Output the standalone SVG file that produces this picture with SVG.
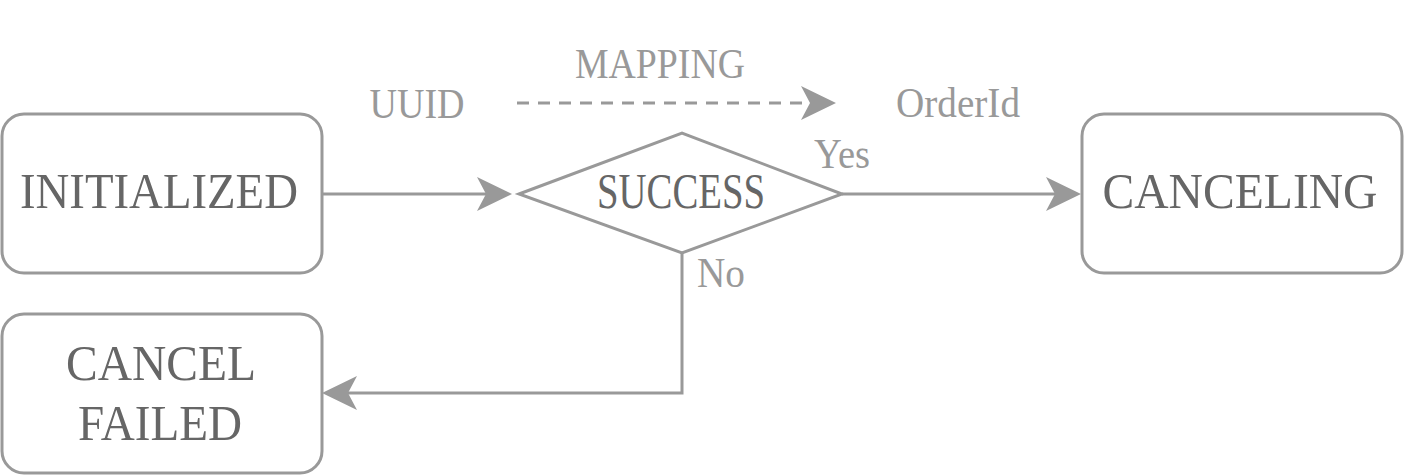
<svg xmlns="http://www.w3.org/2000/svg" width="1404" height="476" viewBox="0 0 1404 476">
<style>
.box{fill:#fff;stroke:#999;stroke-width:3}
.node{font-family:"Liberation Serif","Times New Roman",serif;fill:#666;text-anchor:middle;font-size:50px}
.lbl{font-family:"Liberation Serif","Times New Roman",serif;fill:#999;font-size:42px}
.edge{fill:none;stroke:#999;stroke-width:3}
</style>
<defs>
<marker id="arr" markerUnits="userSpaceOnUse" markerWidth="36" markerHeight="36" viewBox="0 0 36 36" refX="9" refY="18" orient="auto">
<path d="M0,1 L35,18 L0,35 L9,18 Z" fill="#999"/>
</marker>
</defs>
<rect width="1404" height="476" fill="#fff"/>
<g id="connectors">
<path class="edge" d="M322,194 H486" marker-end="url(#arr)"/>
<path class="edge" d="M842,194 H1055" marker-end="url(#arr)"/>
<path class="edge" d="M682,253 V393 H348" marker-end="url(#arr)"/>
<path class="edge" d="M517,103 H810" stroke-dasharray="12 9" marker-end="url(#arr)"/>
</g>
<g id="initialized">
<rect class="box" x="2" y="114" width="320" height="159" rx="22"/>
<text class="node" x="159" y="208" textLength="278" lengthAdjust="spacingAndGlyphs">INITIALIZED</text>
</g>
<g id="success">
<path class="box" d="M519,194 L682,133 L842,194 L682,253 Z"/>
<text class="node" x="681" y="208" font-size="42" textLength="168" lengthAdjust="spacingAndGlyphs">SUCCESS</text>
</g>
<g id="canceling">
<rect class="box" x="1082" y="114" width="320" height="159" rx="22"/>
<text class="node" x="1240" y="208" textLength="275" lengthAdjust="spacingAndGlyphs">CANCELING</text>
</g>
<g id="cancel-failed">
<rect class="box" x="2" y="314" width="320" height="159" rx="22"/>
<text class="node" x="161" y="380" textLength="190" lengthAdjust="spacingAndGlyphs">CANCEL</text>
<text class="node" x="160" y="440" textLength="164" lengthAdjust="spacingAndGlyphs">FAILED</text>
</g>
<g id="labels">
<text class="lbl" x="660" y="78" text-anchor="middle" textLength="170" lengthAdjust="spacingAndGlyphs">MAPPING</text>
<text class="lbl" x="417" y="118" text-anchor="middle" textLength="95" lengthAdjust="spacingAndGlyphs">UUID</text>
<text class="lbl" x="958" y="117" text-anchor="middle" textLength="124" lengthAdjust="spacingAndGlyphs">OrderId</text>
<text class="lbl" x="842" y="168" text-anchor="middle" font-size="38" textLength="56" lengthAdjust="spacingAndGlyphs">Yes</text>
<text class="lbl" x="697" y="287" textLength="48" lengthAdjust="spacingAndGlyphs">No</text>
</g>
</svg>
